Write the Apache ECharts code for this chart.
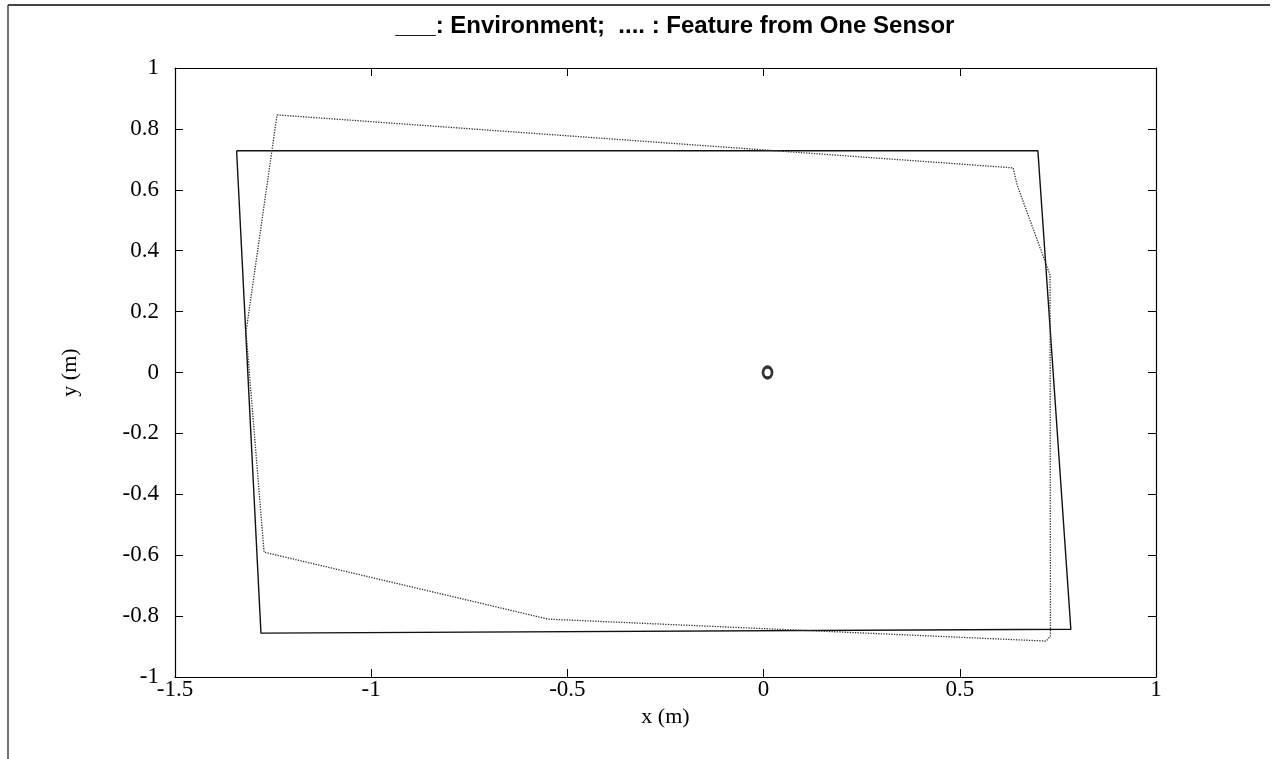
<!DOCTYPE html>
<html>
<head>
<meta charset="utf-8">
<script src="https://cdn.jsdelivr.net/npm/echarts@6/dist/echarts.min.js"></script>
<style>
  html, body { margin: 0; padding: 0; background: #fff; }
  #chart { width: 1277px; height: 759px; }
</style>
</head>
<body>
<div id="chart"></div>
<script>
// environment outline (solid)
const envX = [-1.343, 0.699, 0.783, -1.281, -1.343];
const envY = [0.728, 0.728, -0.843, -0.856, 0.728];
// feature seen from one sensor (dotted)
const featX = [-1.240, 0.636, 0.646, 0.730, 0.731, 0.720, -0.549, -1.273, -1.319, -1.240];
const featY = [0.846, 0.672, 0.616, 0.320, -0.865, -0.882, -0.810, -0.590, 0.133, 0.846];
// sensor position
const sensorX = [0.01];
const sensorY = [0];
const xTicks = [-1.5, -1, -0.5, 0, 0.5, 1];
const yTicks = [-1, -0.8, -0.6, -0.4, -0.2, 0, 0.2, 0.4, 0.6, 0.8, 1];

const zip = (a, b) => a.map((v, i) => [v, b[i]]);
const serif = "'Liberation Serif', 'DejaVu Serif', serif";

const chartDom = document.getElementById("chart");
const myChart = echarts.init(chartDom);

const baseAxis = {
  axisLine: { show: true, onZero: false, lineStyle: { color: "#000", width: 1.2 } },
  axisTick: { show: true, inside: true, length: 8, lineStyle: { color: "#000" } },
  splitLine: { show: false }
};

const option = {
  animation: false,
  backgroundColor: "#fff",
  title: {
    text: "___: Environment;  .... : Feature from One Sensor",
    left: 670,
    top: 9,
    textAlign: "center",
    textStyle: { fontFamily: "'Liberation Sans', Arial, sans-serif", fontWeight: "bold", fontSize: 24, color: "#000" }
  },
  grid: { left: 175, top: 68, right: 121, bottom: 82 },
  xAxis: [
    Object.assign({}, baseAxis, {
      type: "value", min: xTicks[0], max: xTicks[xTicks.length - 1], interval: 0.5,
      position: "bottom",
      name: "x (m)", nameLocation: "middle", nameGap: 29,
      nameTextStyle: { fontFamily: serif, fontSize: 22, color: "#000" },
      axisLabel: { fontFamily: serif, fontSize: 23, color: "#000", margin: 1, formatter: v => String(v) }
    }),
    Object.assign({}, baseAxis, {
      type: "value", min: xTicks[0], max: xTicks[xTicks.length - 1], interval: 0.5,
      position: "top", axisLabel: { show: false }
    })
  ],
  yAxis: [
    Object.assign({}, baseAxis, {
      type: "value", min: yTicks[0], max: yTicks[yTicks.length - 1], interval: 0.2,
      position: "left",
      name: "y (m)", nameLocation: "middle", nameGap: 94, nameRotate: 90,
      nameTextStyle: { fontFamily: serif, fontSize: 22, color: "#000" },
      axisLabel: { fontFamily: serif, fontSize: 23, color: "#000", margin: 16,
        formatter: v => String(Math.round(v * 10) / 10) }
    }),
    Object.assign({}, baseAxis, {
      type: "value", min: yTicks[0], max: yTicks[yTicks.length - 1], interval: 0.2,
      position: "right", axisLabel: { show: false }
    })
  ],
  series: [
    {
      name: "Environment", type: "line", data: zip(envX, envY), symbol: "none",
      lineStyle: { color: "#111", width: 1.4, type: "solid" }
    },
    {
      name: "Feature", type: "line", data: zip(featX, featY), symbol: "none",
      lineStyle: { color: "#333", width: 1.3, type: "dotted" }
    },
    {
      name: "Sensor", type: "scatter", data: zip(sensorX, sensorY),
      symbol: "circle", symbolSize: [9, 11],
      itemStyle: { color: "#fff", borderColor: "#000", borderWidth: 3 }
    }
  ],
  graphic: [
    { type: "line", shape: { x1: 8, y1: 5, x2: 1270, y2: 5 }, style: { stroke: "#444", lineWidth: 2 } },
    { type: "line", shape: { x1: 8, y1: 5, x2: 8, y2: 759 }, style: { stroke: "#444", lineWidth: 1.5 } }
  ]
};

myChart.setOption(option);
</script>
</body>
</html>
